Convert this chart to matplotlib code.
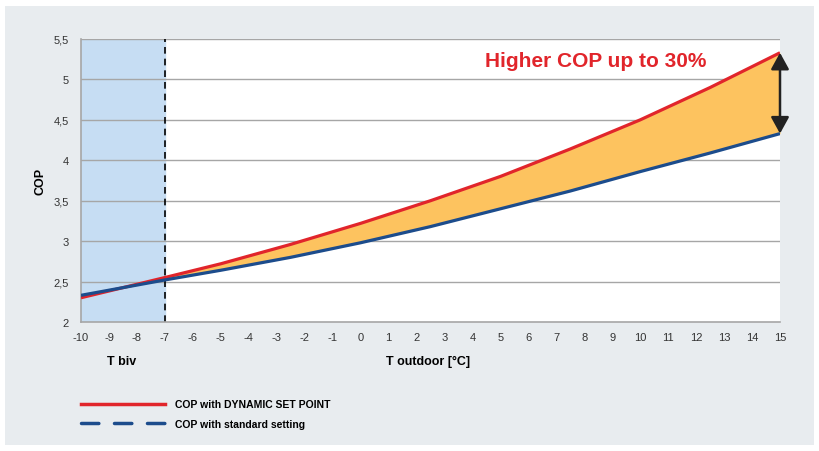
import numpy as np
import matplotlib.pyplot as plt
from matplotlib.patches import Rectangle
from matplotlib.lines import Line2D

plt.rcParams['font.family'] = ['Liberation Sans', 'DejaVu Sans']
plt.rcParams['axes.unicode_minus'] = False

# values
t_out = [-10, -7, -5, -2.5, 0, 2.5, 5, 7.5, 10, 12.5, 15]
cop_dynamic = [2.30, 2.55, 2.72, 2.96, 3.22, 3.50, 3.80, 4.14, 4.50, 4.90, 5.33]
cop_standard = [2.33, 2.52, 2.64, 2.80, 2.98, 3.18, 3.40, 3.62, 3.86, 4.09, 4.33]
t_biv = -7
x_ticks = list(range(-10, 16))
y_ticks = [2, 2.5, 3, 3.5, 4, 4.5, 5, 5.5]
y_labels = ['2', '2,5', '3', '3,5', '4', '4,5', '5', '5,5']

red = '#E1252B'
blue = '#1C4C8C'
orange = '#FDC35F'

fig = plt.figure(figsize=(8.19, 4.52), dpi=100)
fig.patch.set_facecolor('white')
fig.patches.append(Rectangle((5 / 819, 1 - 446 / 452), 809 / 819, 439 / 452,
                             transform=fig.transFigure, facecolor='#E8ECEF',
                             edgecolor='none', zorder=-10))

ax = fig.add_axes([81 / 819, 1 - 323 / 452, 699 / 819, 283 / 452])
ax.set_zorder(1)
ax.set_facecolor('white')
ax.set_xlim(-10, 15)
ax.set_ylim(2, 5.5)

# bivalent zone
ax.axvspan(-10, t_biv, color='#C6DDF3', zorder=0)
for y in y_ticks[1:]:
    ax.axhline(y, color='#A6A6A6', lw=1, zorder=1)
ax.axvline(t_biv, color='black', lw=1.2, ls=(0, (4, 3)), zorder=2)

x = np.array(t_out)
r = np.array(cop_dynamic)
b = np.array(cop_standard)
ax.fill_between(x, b, r, where=r >= b, interpolate=True, color=orange, lw=0, zorder=2)
ax.plot(x, r, color=red, lw=2.3, zorder=3, solid_capstyle='butt', solid_joinstyle='round')
ax.plot(x, b, color=blue, lw=2.3, zorder=4, solid_capstyle='butt', solid_joinstyle='round')

# arrow for the gain
ax.annotate('', xy=(15, cop_dynamic[-1]), xytext=(15, cop_standard[-1]),
            arrowprops=dict(arrowstyle='<|-|>,head_length=1.0,head_width=0.55',
                            color='#222222', lw=1.8, shrinkA=0, shrinkB=0),
            annotation_clip=False, zorder=6)
ax.text(8.42, 5.24, 'Higher COP up to 30%', color=red, fontsize=15,
        fontweight='bold', ha='center', va='center')

for s in ['top', 'right']:
    ax.spines[s].set_visible(False)
for s in ['left', 'bottom']:
    ax.spines[s].set_color('#A6A6A6')
    ax.spines[s].set_linewidth(1.2)

ax.set_xticks(x_ticks)
ax.set_yticks(y_ticks)
ax.set_yticklabels(y_labels)
ax.tick_params(length=0, labelsize=8, labelcolor='#333333')
ax.tick_params(axis='x', pad=7)
ax.tick_params(axis='y', pad=9)

ax.set_ylabel('COP', fontsize=9, fontweight='bold', labelpad=5)
fig.text(122 / 819, 1 - 362 / 452, 'T biv', fontsize=9, fontweight='bold',
         ha='center', va='center')
fig.text(428 / 819, 1 - 362 / 452, 'T outdoor [°C]', fontsize=9, fontweight='bold',
         ha='center', va='center')

handles = [Line2D([], [], color=red, lw=2.5),
           Line2D([], [], color=blue, lw=2.5, ls=(0, (5, 4.5)), dash_capstyle='round')]
fig.legend(handles, ['COP with DYNAMIC SET POINT', 'COP with standard setting'],
           loc='upper left', bbox_to_anchor=(72 / 819, 1 - 391 / 452),
           frameon=False, prop={'weight': 'bold', 'size': 7.5},
           handlelength=8.0, handletextpad=1.0, labelspacing=0.9)

fig.savefig('out.png', dpi=100)
